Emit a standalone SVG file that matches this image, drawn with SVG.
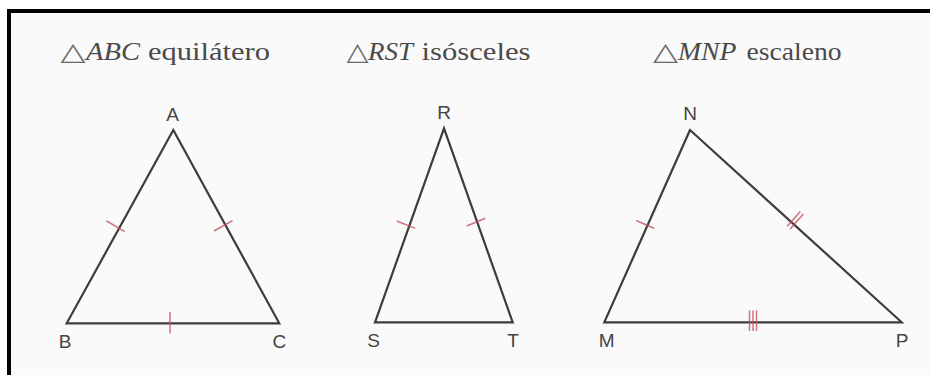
<svg xmlns="http://www.w3.org/2000/svg" width="930" height="375" viewBox="0 0 930 375">
  <style>
    .tri { fill: none; stroke: #3c3c3c; stroke-width: 2.2; stroke-linejoin: miter; }
    .tick { stroke: #c4505f; stroke-width: 1.5; fill: none; stroke-opacity: 0.8; }
    .title { font-family: "Liberation Serif", "Times New Roman", serif; font-size: 25px; fill: #4a4a4a; }
    .tri-sym { font-family: "DejaVu Sans", "Liberation Serif", sans-serif; font-weight: normal; fill: #6a6a6a; }
    .it { font-style: italic; }
    .lbl { font-family: "Liberation Sans", Arial, sans-serif; font-size: 19px; fill: #444; text-anchor: middle; }
  </style>
  <rect x="0" y="0" width="930" height="375" fill="#fafafa"/>
  <rect x="0" y="0" width="930" height="9" fill="#ffffff"/>
  <rect x="0" y="0" width="7" height="375" fill="#ffffff"/>
  <!-- frame -->
  <line x1="7" y1="11" x2="930" y2="11" stroke="#000" stroke-width="4"/>
  <line x1="9" y1="9" x2="9" y2="375" stroke="#000" stroke-width="4"/>

  <g id="tri-abc">
    <text class="title" y="59.5"><tspan class="tri-sym" x="60.5" textLength="25" lengthAdjust="spacingAndGlyphs">△</tspan><tspan class="it" x="86" textLength="54" lengthAdjust="spacingAndGlyphs">ABC</tspan> <tspan x="148" textLength="122" lengthAdjust="spacingAndGlyphs">equilátero</tspan></text>
    <polygon class="tri" points="173.3,130 66.7,323.3 279.3,323.3"/>
    <line class="tick" x1="106.6" y1="221" x2="124.8" y2="231.6"/>
    <line class="tick" x1="214" y1="231" x2="232.6" y2="220.6"/>
    <line class="tick" x1="170" y1="312" x2="170" y2="333.5"/>
    <text class="lbl" x="172.5" y="121">A</text>
    <text class="lbl" x="65" y="348">B</text>
    <text class="lbl" x="279.3" y="348">C</text>
  </g>

  <g id="tri-rst">
    <text class="title" y="59.5"><tspan class="tri-sym" x="346.5" textLength="22" lengthAdjust="spacingAndGlyphs">△</tspan><tspan class="it" x="368" textLength="45" lengthAdjust="spacingAndGlyphs">RST</tspan> <tspan x="421.5" textLength="109" lengthAdjust="spacingAndGlyphs">isósceles</tspan></text>
    <polygon class="tri" points="444,128.3 375,322.3 512.7,322.3"/>
    <line class="tick" x1="396.7" y1="221" x2="415.3" y2="228.4"/>
    <line class="tick" x1="466.7" y1="226" x2="485.3" y2="218.2"/>
    <text class="lbl" x="444" y="119">R</text>
    <text class="lbl" x="373.5" y="347">S</text>
    <text class="lbl" x="513" y="347">T</text>
  </g>

  <g id="tri-mnp">
    <text class="title" y="59.5"><tspan class="tri-sym" x="653" textLength="25" lengthAdjust="spacingAndGlyphs">△</tspan><tspan class="it" x="678" textLength="58.5" lengthAdjust="spacingAndGlyphs">MNP</tspan> <tspan x="746.5" textLength="95" lengthAdjust="spacingAndGlyphs">escaleno</tspan></text>
    <polygon class="tri" points="690,130 604.3,322.3 901.7,322.3"/>
    <line class="tick" x1="636.3" y1="220.5" x2="654.3" y2="228.5"/>
    <line class="tick" x1="800.3" y1="211.4" x2="787.1" y2="226.2"/>
    <line class="tick" x1="803.3" y1="214.1" x2="790.1" y2="228.9"/>
    <line class="tick" x1="749.5" y1="310.5" x2="749.5" y2="331"/>
    <line class="tick" x1="753" y1="310.5" x2="753" y2="331"/>
    <line class="tick" x1="756.5" y1="310.5" x2="756.5" y2="331"/>
    <text class="lbl" x="690" y="120">N</text>
    <text class="lbl" x="606.7" y="347">M</text>
    <text class="lbl" x="902" y="347">P</text>
  </g>
  <g id="connectors"/>
</svg>
